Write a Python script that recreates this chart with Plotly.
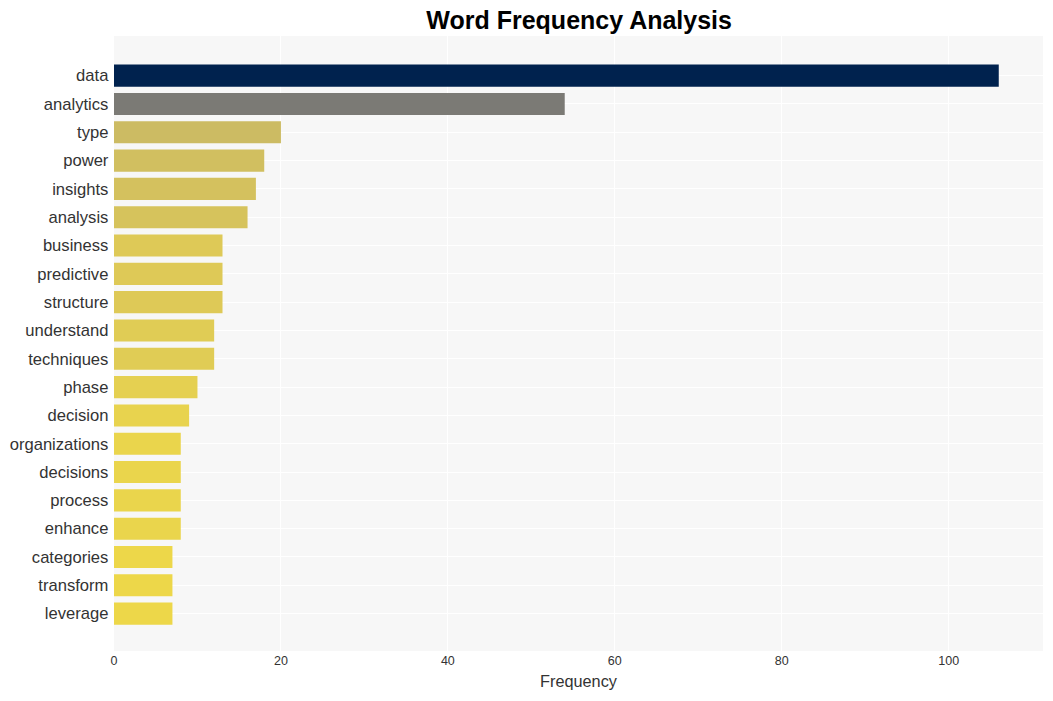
import plotly.graph_objects as go

words = ["data", "analytics", "type", "power", "insights", "analysis", "business",
         "predictive", "structure", "understand", "techniques", "phase", "decision",
         "organizations", "decisions", "process", "enhance", "categories", "transform", "leverage"]
counts = [106, 54, 20, 18, 17, 16, 13, 13, 13, 12, 12, 10, 9, 8, 8, 8, 8, 7, 7, 7]

fig = go.Figure(go.Bar(
    x=counts, y=words, orientation="h",
    marker=dict(color=counts, colorscale="Cividis", reversescale=True, cmin=0, cmax=max(counts),
                line=dict(width=0)),
    width=0.78,
))

fig.update_layout(
    width=1053, height=701,
    margin=dict(l=114, r=10, t=36, b=50),
    paper_bgcolor="white", plot_bgcolor="#f7f7f7",
    font=dict(family="Liberation Sans, Arial, sans-serif", color="#333"),
    title=dict(text="<b>Word Frequency Analysis</b>", x=0.55, xanchor="center", y=0.971, yanchor="middle",
               font=dict(size=25, color="black")),
    showlegend=False,
)
fig.update_xaxes(range=[0, 111.3], gridcolor="white", gridwidth=1, zeroline=False,
                 tickfont=dict(size=12.5), title=dict(text="Frequency", font=dict(size=16.3), standoff=9),
                 dtick=20)
fig.update_yaxes(categoryorder="array", categoryarray=words, range=[20.32, -1.40],
                 gridcolor="white", gridwidth=1, tickfont=dict(size=16.6), ticksuffix=" ")

fig.write_html("out.html")
